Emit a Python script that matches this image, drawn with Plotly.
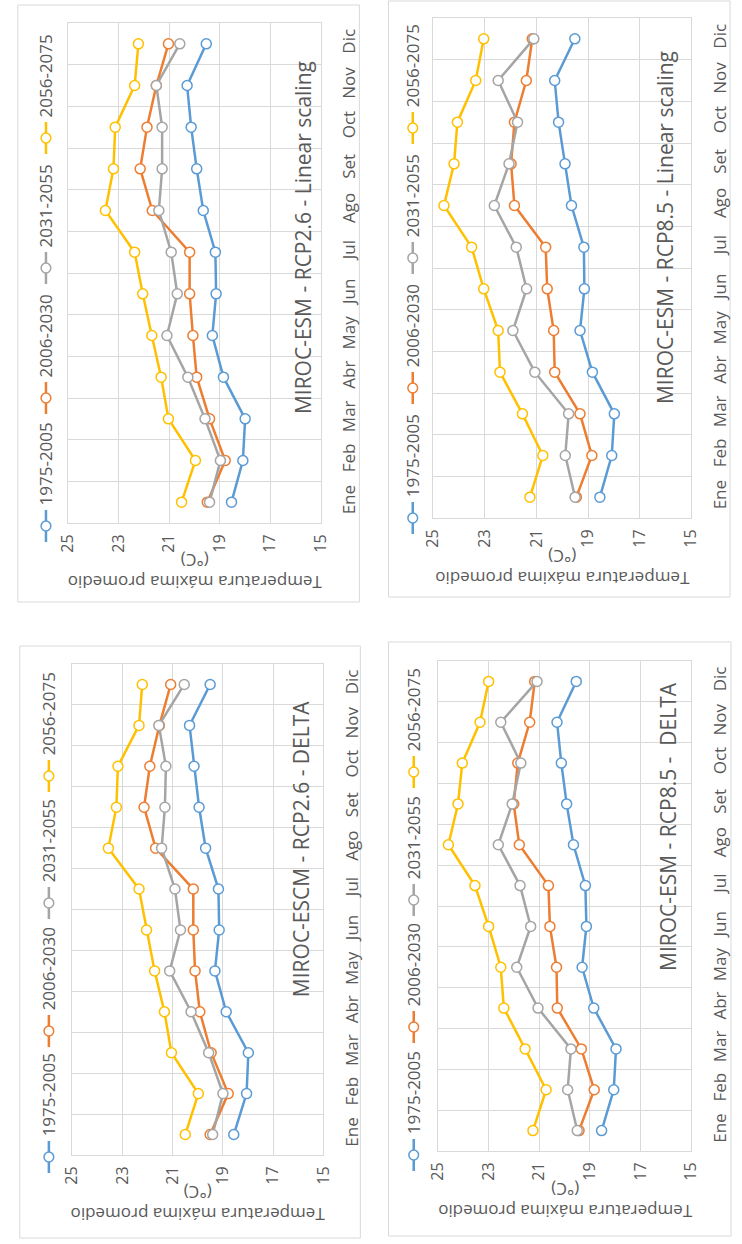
import plotly.graph_objects as go

months = ["Ene", "Feb", "Mar", "Abr", "May", "Jun", "Jul", "Ago", "Set", "Oct", "Nov", "Dic"]
series_names = ["1975-2005", "2006-2030", "2031-2055", "2056-2075"]
colors = ["#5B9BD5", "#ED7D31", "#A5A5A5", "#FFC000"]
temp_ticks = [25, 23, 21, 19, 17, 15]

# MIROC-ESM - RCP2.6 - Linear scaling
rcp26_ls_1975_2005 = [18.53, 18.08, 17.99, 18.85, 19.29, 19.14, 19.17, 19.65, 19.91, 20.13, 20.29, 19.53]
rcp26_ls_2006_2030 = [19.49, 18.78, 19.40, 19.91, 20.06, 20.19, 20.19, 21.67, 22.15, 21.88, 21.51, 21.03]
rcp26_ls_2031_2055 = [19.40, 18.97, 19.58, 20.26, 21.09, 20.68, 20.92, 21.41, 21.28, 21.28, 21.51, 20.58]
rcp26_ls_2056_2075 = [20.51, 19.96, 21.03, 21.32, 21.69, 22.05, 22.37, 23.53, 23.21, 23.14, 22.37, 22.22]

# MIROC-ESM - RCP8.5 - Linear scaling
rcp85_ls_1975_2005 = [18.54, 18.08, 17.98, 18.83, 19.31, 19.14, 19.16, 19.64, 19.89, 20.14, 20.29, 19.51]
rcp85_ls_2006_2030 = [19.45, 18.85, 19.31, 20.29, 20.33, 20.58, 20.64, 21.85, 21.98, 21.85, 21.39, 21.16]
rcp85_ls_2031_2055 = [19.50, 19.88, 19.75, 21.06, 21.91, 21.38, 21.78, 22.63, 22.06, 21.73, 22.48, 21.10]
rcp85_ls_2056_2075 = [21.25, 20.75, 21.54, 22.41, 22.48, 23.04, 23.51, 24.58, 24.19, 24.06, 23.35, 23.04]

# MIROC-ESCM - RCP2.6 - DELTA
rcp26_dl_1975_2005 = [18.57, 18.06, 17.99, 18.87, 19.32, 19.15, 19.18, 19.69, 19.95, 20.15, 20.33, 19.51]
rcp26_dl_2006_2030 = [19.51, 18.79, 19.47, 19.92, 20.11, 20.18, 20.18, 21.68, 22.14, 21.91, 21.53, 21.08]
rcp26_dl_2031_2055 = [19.41, 19.00, 19.57, 20.27, 21.12, 20.69, 20.91, 21.44, 21.31, 21.27, 21.55, 20.54]
rcp26_dl_2056_2075 = [20.50, 19.98, 21.05, 21.33, 21.72, 22.04, 22.34, 23.56, 23.24, 23.18, 22.34, 22.21]

# MIROC-ESM - RCP8.5 - DELTA
rcp85_dl_1975_2005 = [18.54, 18.06, 17.97, 18.85, 19.31, 19.14, 19.18, 19.65, 19.92, 20.13, 20.30, 19.54]
rcp85_dl_2006_2030 = [19.43, 18.83, 19.34, 20.29, 20.32, 20.58, 20.64, 21.79, 22.01, 21.85, 21.38, 21.18]
rcp85_dl_2031_2055 = [19.50, 19.88, 19.75, 21.05, 21.89, 21.34, 21.76, 22.62, 22.07, 21.73, 22.52, 21.09]
rcp85_dl_2056_2075 = [21.25, 20.73, 21.56, 22.40, 22.52, 23.00, 23.54, 24.59, 24.21, 24.04, 23.34, 23.00]

W, H = 742, 1244
FONT = "Open Sans"
TXT = "#595959"
GRID = "#D9D9D9"
XTICK_SIZE = 16
MONTH_SIZE = 17
LEG_SIZE = 17
TITLE_SIZE = 21
ATITLE_SIZE = 17


def px(x):
    return x / W


def py(y):
    return 1 - y / H


panels = [
    dict(title="MIROC-ESM - RCP2.6 - Linear scaling",
         data=[rcp26_ls_1975_2005, rcp26_ls_2006_2030, rcp26_ls_2031_2055, rcp26_ls_2056_2075],
         plot=(58, 318, 23, 523), frame=(6, 5, 358, 602), legx=35, legy=[526, 398, 268, 138],
         title_pos=(300, 238), atitle=(188, 572)),
    dict(title="MIROC-ESM - RCP8.5 - Linear scaling",
         data=[rcp85_ls_1975_2005, rcp85_ls_2006_2030, rcp85_ls_2031_2055, rcp85_ls_2056_2075],
         plot=(434, 700, 18, 518), frame=(388, 1, 740, 597), legx=413, legy=[518, 388, 258, 128],
         title_pos=(673, 228), atitle=(567, 567)),
    dict(title="MIROC-ESCM - RCP2.6 - DELTA",
         data=[rcp26_dl_1975_2005, rcp26_dl_2006_2030, rcp26_dl_2031_2055, rcp26_dl_2056_2075],
         plot=(62, 321, 664, 1155), frame=(8, 646, 359, 1238), legx=38, legy=[1157, 1031, 903, 776],
         title_pos=(298, 849), atitle=(191, 1204)),
    dict(title="MIROC-ESM - RCP8.5 -  DELTA",
         data=[rcp85_dl_1975_2005, rcp85_dl_2006_2030, rcp85_dl_2031_2055, rcp85_dl_2056_2075],
         plot=(439, 700, 661, 1151), frame=(388, 642, 741, 1236), legx=414, legy=[1155, 1027, 900, 772],
         title_pos=(676, 826), atitle=(570, 1201)),
]

fig = go.Figure()
shapes = []
annotations = []
layout_axes = {}

for i, p in enumerate(panels, start=1):
    xa = "x" if i == 1 else f"x{i}"
    ya = "y" if i == 1 else f"y{i}"
    x0, x1, y0, y1 = p["plot"]
    for name, vals, col in zip(series_names, p["data"], colors):
        fig.add_trace(go.Scatter(
            x=vals, y=months, name=name, mode="lines+markers",
            line=dict(color=col, width=2.5),
            marker=dict(symbol="circle", size=10, color="white", line=dict(color=col, width=1.5)),
            xaxis=xa, yaxis=ya, showlegend=False, cliponaxis=False))
    xkey = "xaxis" if i == 1 else f"xaxis{i}"
    ykey = "yaxis" if i == 1 else f"yaxis{i}"
    layout_axes[xkey] = dict(
        domain=[px(x0), px(x1)], anchor=ya, range=[25, 15], autorange=False,
        tickvals=temp_ticks, ticktext=[str(t) for t in temp_ticks], tickangle=-90,
        showgrid=True, gridcolor=GRID, gridwidth=1, zeroline=False,
        showline=True, linecolor=GRID, mirror=True, ticks="",
        tickfont=dict(family=FONT, size=XTICK_SIZE, color=TXT), ticklabelstandoff=4)
    layout_axes[ykey] = dict(
        domain=[py(y1), py(y0)], anchor=xa, type="category",
        categoryorder="array", categoryarray=months, range=[-0.5, 11.5], autorange=False,
        side="right", tickangle=-90, tickson="boundaries", ticks="",
        showgrid=True, gridcolor=GRID, gridwidth=1, zeroline=False,
        showline=True, linecolor=GRID, mirror=True,
        tickfont=dict(family=FONT, size=MONTH_SIZE, color=TXT), ticklabelstandoff=13)
    fx0, fy0, fx1, fy1 = p["frame"]
    shapes.append(dict(type="rect", xref="paper", yref="paper",
                       x0=px(fx0), x1=px(fx1), y0=py(fy1), y1=py(fy0),
                       line=dict(color=GRID, width=1), fillcolor="rgba(0,0,0,0)", layer="below"))
    tx, ty = p["title_pos"]
    annotations.append(dict(text=p["title"], x=px(tx), y=py(ty), xref="paper", yref="paper",
                            showarrow=False, textangle=-90, xanchor="center", yanchor="middle",
                            font=dict(family=FONT, size=TITLE_SIZE, color=TXT)))
    ax, ay = p["atitle"]
    annotations.append(dict(text="Temperatura máxima promedio<br>(°C)", x=px(ax), y=py(ay),
                            xref="paper", yref="paper", showarrow=False, textangle=180,
                            xanchor="center", yanchor="middle",
                            font=dict(family=FONT, size=ATITLE_SIZE, color=TXT)))
    lx = p["legx"]
    for name, col, sy in zip(series_names, colors, p["legy"]):
        shapes.append(dict(type="line", xref="paper", yref="paper",
                           x0=px(lx), x1=px(lx), y0=py(sy + 16), y1=py(sy - 16),
                           line=dict(color=col, width=2.5)))
        shapes.append(dict(type="circle", xref="paper", yref="paper",
                           x0=px(lx - 5), x1=px(lx + 5), y0=py(sy + 5), y1=py(sy - 5),
                           line=dict(color=col, width=1.5), fillcolor="white"))
        annotations.append(dict(text=name, x=px(lx), y=py(sy - 19), xref="paper", yref="paper",
                                showarrow=False, textangle=-90, xanchor="center", yanchor="bottom",
                                font=dict(family=FONT, size=LEG_SIZE, color=TXT)))

fig.update_layout(
    width=W, height=H, margin=dict(l=0, r=0, t=0, b=0),
    paper_bgcolor="white", plot_bgcolor="white", showlegend=False,
    shapes=shapes, annotations=annotations, **layout_axes)

fig.write_html("out.html", config={"displayModeBar": False},
               post_script="document.body.style.margin='0';")
